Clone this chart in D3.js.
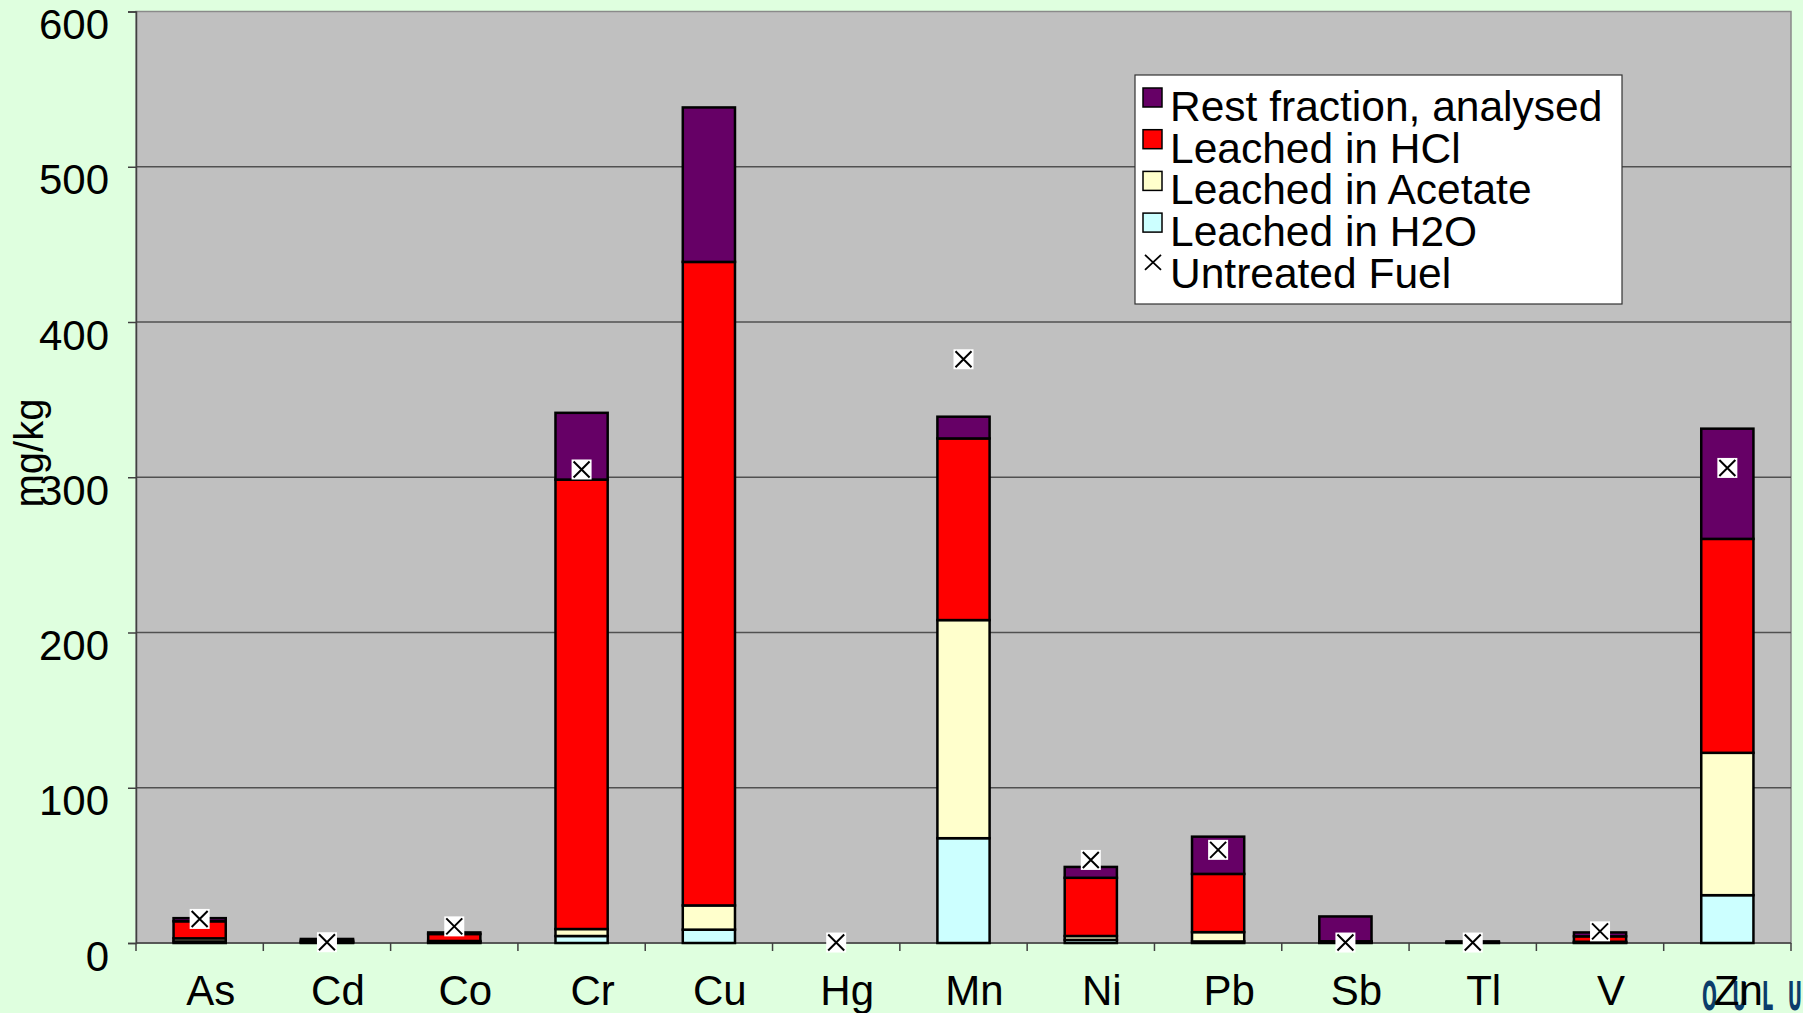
<!DOCTYPE html>
<html>
<head>
<meta charset="utf-8">
<script src="https://cdn.jsdelivr.net/npm/d3@7"></script>
<style>
  body { margin: 0; background: #dfffdf; }
  #chart svg { display: block; font-family: "Liberation Sans", Arial, sans-serif; }
</style>
</head>
<body>
<div id="chart"></div>
<script>
// DATA
const categories = ["As", "Cd", "Co", "Cr", "Cu", "Hg", "Mn", "Ni", "Pb", "Sb", "Tl", "V", "Zn"];
const h2o      = [1,   0.3, 0.5, 4.5,   8.6,   0, 67.5,  2,    1,    0.3, 0.2, 0.3, 30.8];
const acetate  = [2,   0.5, 0.8, 4.5,   15.6,  0, 140.5, 2.5,  6,    0.3, 0.2, 0.5, 91.7];
const hcl      = [11,  0.8, 4.5, 289.5, 414.5, 0, 117,   37.5, 37.5, 0.5, 0.3, 3.5, 137.8];
const rest     = [2,   1,   1,   43,    99.5,  0, 14,    7,    24,   16,  0.3, 2.5, 71];
const untreated = [15.5, 0.5, 10.7, 305, null, 0.3, 376, 53.5, 60, 0.3, 0.3, 7.5, 306];
const yTicks = [0, 100, 200, 300, 400, 500, 600];

const seriesNames = ["Leached in H2O", "Leached in Acetate", "Leached in HCl", "Rest fraction, analysed"];
const seriesColors = ["#ccffff", "#ffffcc", "#ff0000", "#660066"];
const seriesValues = [h2o, acetate, hcl, rest];

// CONSTANTS
const width = 1803;
const height = 1013;
const plot = { left: 136, right: 1791, top: 11.5, bottom: 943 };
const fontSize = 42;

// SVG
const svg = d3.select("#chart")
  .append("svg")
  .attr("width", width)
  .attr("height", height);

svg.append("rect")
  .attr("width", width)
  .attr("height", height)
  .attr("fill", "#dfffdf");

// SCALES
const xScale = d3.scaleBand()
  .domain(categories)
  .range([plot.left, plot.right])
  .paddingInner(0.59)
  .paddingOuter(0.295);

const yScale = d3.scaleLinear()
  .domain([0, 600])
  .range([plot.bottom, plot.top]);

// PLOT AREA
svg.append("rect")
  .attr("x", plot.left)
  .attr("y", plot.top)
  .attr("width", plot.right - plot.left)
  .attr("height", plot.bottom - plot.top)
  .attr("fill", "#c0c0c0")
  .attr("stroke", "#8a8a8a")
  .attr("stroke-width", 1.5);

// GRIDLINES
svg.append("g")
  .selectAll("line")
  .data(yTicks.filter(d => d > 0 && d < 600))
  .join("line")
  .attr("x1", plot.left)
  .attr("x2", plot.right)
  .attr("y1", d => yScale(d))
  .attr("y2", d => yScale(d))
  .attr("stroke", "#505050")
  .attr("stroke-width", 1.6);

// Y AXIS
const yAxis = d3.axisLeft(yScale)
  .tickValues(yTicks)
  .tickSize(8)
  .tickPadding(19);

const yAxisGroup = svg.append("g")
  .attr("transform", `translate(${plot.left},0)`)
  .call(yAxis);

yAxisGroup.select(".domain").attr("stroke", "#404040").attr("stroke-width", 1.5);
yAxisGroup.selectAll(".tick line").attr("stroke", "#404040").attr("stroke-width", 1.5);
yAxisGroup.selectAll(".tick text")
  .attr("font-size", fontSize)
  .attr("font-family", "Liberation Sans, Arial, sans-serif")
  .attr("fill", "black")
  .attr("dy", 27);

svg.append("text")
  .attr("transform", `translate(${43},${453}) rotate(-90)`)
  .attr("text-anchor", "middle")
  .attr("font-size", 40)
  .attr("fill", "black")
  .text("mg/kg");

// X AXIS
const bounds = categories.map(d => xScale(d) - (xScale.step() - xScale.bandwidth()) / 2);
bounds.push(plot.right);

svg.append("line")
  .attr("x1", plot.left)
  .attr("x2", plot.right)
  .attr("y1", plot.bottom)
  .attr("y2", plot.bottom)
  .attr("stroke", "#404040")
  .attr("stroke-width", 1.5);

svg.append("g")
  .selectAll("line")
  .data(bounds)
  .join("line")
  .attr("x1", d => d)
  .attr("x2", d => d)
  .attr("y1", plot.bottom)
  .attr("y2", plot.bottom + 8)
  .attr("stroke", "#404040")
  .attr("stroke-width", 1.5);

// LOGO (partly hidden, bottom right)
svg.append("text")
  .attr("x", 1702)
  .attr("y", 1010)
  .attr("font-family", "DejaVu Sans Condensed, DejaVu Sans, sans-serif")
  .attr("font-weight", "bold")
  .attr("font-size", 39)
  .attr("fill", "#0b3d6b")
  .attr("textLength", 200)
  .attr("lengthAdjust", "spacing")
  .attr("transform", "translate(1702,0) scale(0.5,1) translate(-1702,0)")
  .text("OULU");

svg.append("g")
  .selectAll("text")
  .data(categories)
  .join("text")
  .attr("x", d => xScale(d) + xScale.bandwidth() / 2 + 11)
  .attr("y", 1005)
  .attr("text-anchor", "middle")
  .attr("font-size", fontSize)
  .attr("fill", "black")
  .text(d => d);

// STACKED BARS
const table = categories.map((c, i) => {
  const row = { cat: c };
  seriesNames.forEach((s, j) => { row[s] = seriesValues[j][i]; });
  return row;
});

const stack = d3.stack().keys(seriesNames);
const stacked = stack(table);

svg.append("g")
  .selectAll("g")
  .data(stacked)
  .join("g")
  .attr("fill", (d, i) => seriesColors[i])
  .selectAll("rect")
  .data(d => d.filter(p => p[1] - p[0] > 0))
  .join("rect")
  .attr("x", d => xScale(d.data.cat))
  .attr("y", d => yScale(d[1]))
  .attr("width", xScale.bandwidth())
  .attr("height", d => yScale(d[0]) - yScale(d[1]))
  .attr("stroke", "black")
  .attr("stroke-width", 2.5);

// UNTREATED FUEL MARKERS
const markers = svg.append("g")
  .selectAll("g")
  .data(categories.map((c, i) => ({ cat: c, value: untreated[i] })).filter(d => d.value !== null))
  .join("g")
  .attr("transform", d => `translate(${xScale(d.cat) + xScale.bandwidth() / 2},${yScale(d.value)})`);

markers.append("rect")
  .attr("x", -10)
  .attr("y", -10)
  .attr("width", 20)
  .attr("height", 20)
  .attr("fill", "white");

markers.append("path")
  .attr("d", "M-8,-8L8,8M-8,8L8,-8")
  .attr("stroke", "black")
  .attr("stroke-width", 2);

// LEGEND
const legend = svg.append("g");

legend.append("rect")
  .attr("x", 1135)
  .attr("y", 75)
  .attr("width", 487)
  .attr("height", 229)
  .attr("fill", "white")
  .attr("stroke", "#333")
  .attr("stroke-width", 1.2);

const legendItems = [3, 2, 1, 0].map(i => ({ name: seriesNames[i], color: seriesColors[i] }));
legendItems.push({ name: "Untreated Fuel", color: null });

const rowStep = 41.7;
const items = legend.selectAll("g.item")
  .data(legendItems)
  .join("g")
  .attr("class", "item")
  .attr("transform", (d, i) => `translate(1143,${88 + i * rowStep})`);

items.filter(d => d.color !== null)
  .append("rect")
  .attr("width", 19)
  .attr("height", 19)
  .attr("fill", d => d.color)
  .attr("stroke", "black")
  .attr("stroke-width", 1.5);

items.filter(d => d.color === null)
  .append("path")
  .attr("d", "M2,0L18,15M2,15L18,0")
  .attr("stroke", "black")
  .attr("stroke-width", 1.8);

items.append("text")
  .attr("x", 27)
  .attr("y", 33)
  .attr("font-size", 42.5)
  .attr("fill", "black")
  .text(d => d.name);
</script>
</body>
</html>
